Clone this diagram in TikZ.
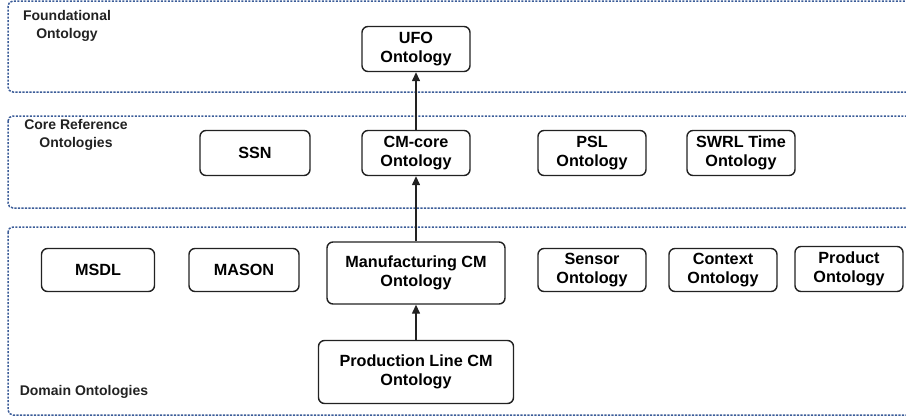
\documentclass[tikz,border=0pt]{standalone}
\usepackage{fontspec}
\setmainfont{Liberation Sans}
\usepackage{xcolor}
\usepackage{tikz}
\usetikzlibrary{arrows.meta, positioning}
\definecolor{layerblue}{HTML}{3B5C98}
\definecolor{boxblack}{HTML}{222222}

\begin{document}
\begin{tikzpicture}[x=1pt, y=-1pt,
    layer/.style={draw=layerblue, line width=1.5pt, dash pattern=on 2.2pt off 1.3pt, rounded corners=5pt},
    layerlabel/.style={font=\fontsize{14}{18}\selectfont\bfseries, align=center, text=boxblack},
    onto/.style={draw=boxblack, line width=1.4pt, rounded corners=6pt, align=center,
        font=\fontsize{16.2}{19}\selectfont\bfseries, minimum width=108pt, minimum height=45pt, inner sep=1pt},
    arr/.style={draw=boxblack, line width=1.4pt, -{Triangle[length=9pt, width=8pt]}}]
            \useasboundingbox (0,0) rectangle (906,418);
            \clip (0,0) rectangle (906,418);

            % layers
            \draw[layer] (8,1) rectangle (914,92);
            \draw[layer] (8,116) rectangle (914,208);
            \draw[layer] (8,227) rectangle (914,415);
            \node[layerlabel] (lfound) at (67,26)  {Foundational\\Ontology};
            \node[layerlabel] (lcore)  at (76,135) {Core Reference\\Ontologies};
            \node[layerlabel] (ldom)   at (84,392) {Domain Ontologies};

            % foundational
            \node[onto] (ufo) at (416,49) {UFO\\Ontology};

            % core reference
            \node[onto, minimum width=110pt] (ssn) at (255,153) {SSN};
            \node[onto] (cmcore) at (416,153) {CM-core\\Ontology};
            \node[onto] (psl)    at (592,153) {PSL\\Ontology};
            \node[onto] (swrl)   at (741,153) {SWRL Time\\Ontology};

            % domain
            \node[onto, minimum width=113pt, minimum height=43pt] (msdl)  at (98,270)  {MSDL};
            \node[onto, minimum width=110pt, minimum height=43pt] (mason) at (244,270) {MASON};
            \node[onto, minimum width=178pt, minimum height=62pt] (mfg)   at (416,273) {Manufacturing CM\\Ontology};
            \node[onto, minimum height=43pt] (sensor)  at (592,270) {Sensor\\Ontology};
            \node[onto, minimum height=43pt] (context) at (723,270) {Context\\Ontology};
            \node[onto, minimum height=45pt] (product) at (849,269) {Product\\Ontology};
            \node[onto, minimum width=195pt, minimum height=63pt] (prod) at (416,372) {Production Line CM\\Ontology};

            \draw[arr] (cmcore) -- (ufo);
            \draw[arr] (mfg) -- (cmcore);
            \draw[arr] (prod) -- (mfg);
        \end{tikzpicture}
\end{document}
